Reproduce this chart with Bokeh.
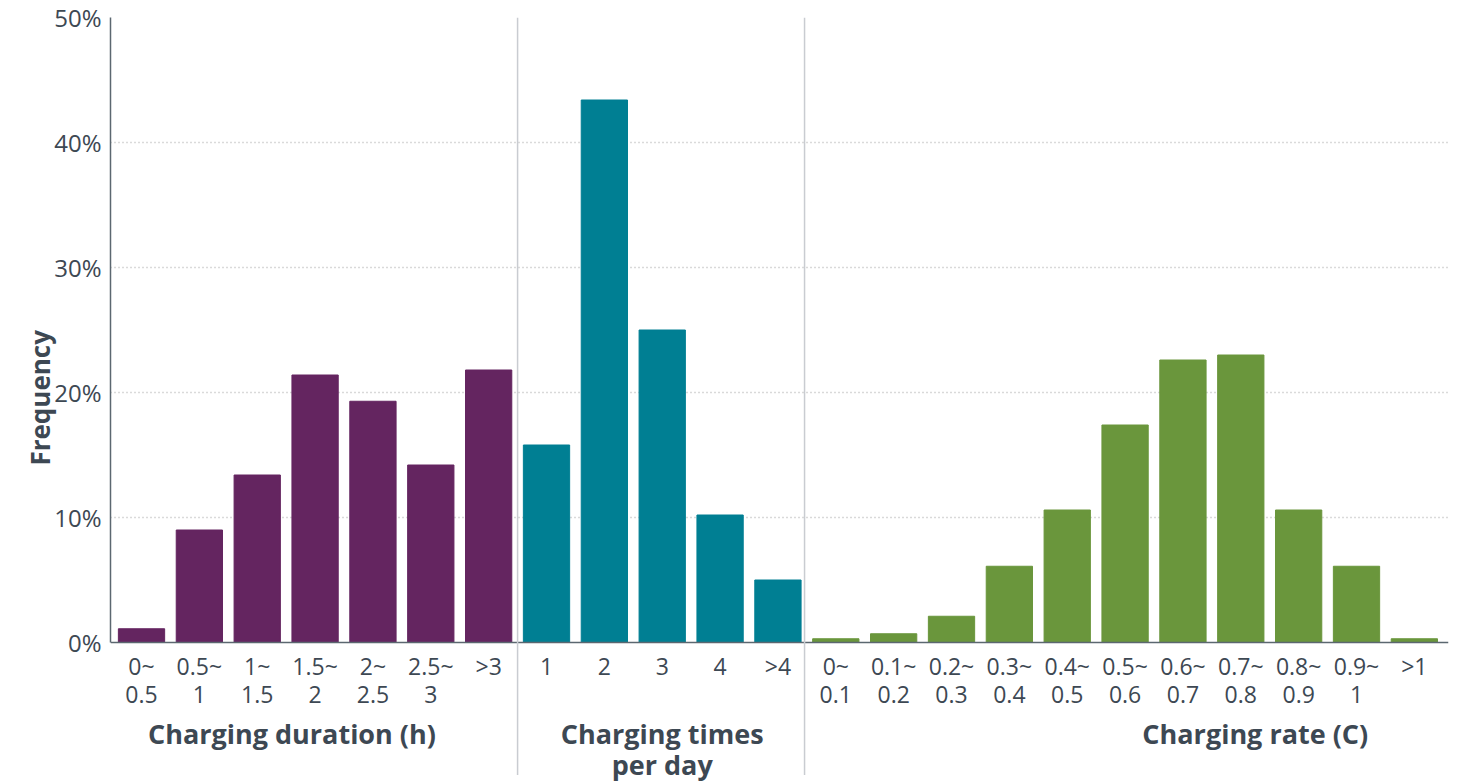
import math
from bokeh.plotting import figure
from bokeh.models import ColumnDataSource, FixedTicker, Range1d, LinearAxis
from bokeh.core.properties import value
from bokeh.embed import file_html
from bokeh.resources import INLINE

# ---- data ----
duration_labels = ["0~\n0.5", "0.5~\n1", "1~\n1.5", "1.5~\n2", "2~\n2.5", "2.5~\n3", ">3"]
duration_values = [1.1, 9.0, 13.4, 21.4, 19.3, 14.2, 21.8]

times_labels = ["1", "2", "3", "4", ">4"]
times_values = [15.8, 43.4, 25.0, 10.2, 5.0]

rate_labels = ["0~\n0.1", "0.1~\n0.2", "0.2~\n0.3", "0.3~\n0.4", "0.4~\n0.5", "0.5~\n0.6",
               "0.6~\n0.7", "0.7~\n0.8", "0.8~\n0.9", "0.9~\n1", ">1"]
rate_values = [0.3, 0.7, 2.1, 6.1, 10.6, 17.4, 22.6, 23.0, 10.6, 6.1, 0.3]

group_titles = ["Charging duration (h)", "Charging times\nper day", "Charging rate (C)"]
y_ticks = [0, 10, 20, 30, 40, 50]
y_title = "Frequency"

# ---- styling ----
C_PURPLE = "#642560"
C_TEAL = "#007f93"
C_GREEN = "#6a963c"
TXT = "#3d4853"
FONT = "Open Sans"

labels = duration_labels + times_labels + rate_labels
vals = duration_values + times_values + rate_values
colors = ([C_PURPLE] * len(duration_values) + [C_TEAL] * len(times_values)
          + [C_GREEN] * len(rate_values))
xs = list(range(len(vals)))
line1 = [l.split("\n")[0] for l in labels]
line2 = [l.split("\n")[1] if "\n" in l else "" for l in labels]

X0, X1 = -0.536, 22.59
Y0 = -11.28
p = figure(width=1458, height=783, output_backend="svg", toolbar_location=None,
           x_range=Range1d(X0, X1), y_range=Range1d(Y0, 50),
           min_border_left=110, min_border_right=10, min_border_top=17, min_border_bottom=0)
p.outline_line_color = None
p.xaxis.visible = False
p.xgrid.visible = False

p.yaxis.ticker = FixedTicker(ticks=y_ticks)
p.yaxis.bounds = (0, 50)
p.yaxis.major_label_overrides = {t: f"{t}%" for t in y_ticks}
p.yaxis.major_tick_line_color = None
p.yaxis.minor_tick_line_color = None
p.yaxis.major_tick_out = 0
p.yaxis.major_tick_in = 0
p.yaxis.minor_tick_out = 0
p.yaxis.axis_line_color = "#5b6770"
p.yaxis.axis_line_width = 1.5
p.yaxis.major_label_text_font = FONT
p.yaxis.major_label_text_font_size = "24px"
p.yaxis.major_label_text_color = TXT
p.yaxis.major_label_standoff = 9

# y title as a vertical label of an extra axis, centred on the 0-50% span
ttl_axis = LinearAxis(ticker=FixedTicker(ticks=[25]), major_label_overrides={25: y_title},
                      axis_line_color=None, major_tick_line_color=None,
                      minor_tick_line_color=None, major_tick_out=0, major_tick_in=0,
                      minor_tick_out=0, major_label_orientation=math.pi / 2,
                      major_label_text_font=FONT, major_label_text_font_size="26px",
                      major_label_text_font_style="bold", major_label_text_color=TXT,
                      major_label_standoff=12)
p.add_layout(ttl_axis, "left")

p.ygrid.ticker = FixedTicker(ticks=y_ticks[1:])
p.ygrid.grid_line_color = "#b4b4b4"
p.ygrid.grid_line_dash = "1 3"
p.ygrid.grid_line_width = 1.5

src = ColumnDataSource(dict(x=xs, top=vals, color=colors, l1=line1, l2=line2))
p.vbar(x="x", top="top", width=0.8, bottom=0, color="color", source=src)

# baseline
p.segment(x0=[X0], y0=[0], x1=[X1], y1=[0], line_color="#5b6770", line_width=1.5)

# separators between groups
n1 = len(duration_values)
n2 = n1 + len(times_values)
p.segment(x0=[n1 - 0.5, n2 - 0.54], y0=[50, 50], x1=[n1 - 0.5, n2 - 0.54], y1=[-10.6, -10.6],
          line_color="#c9ccd1", line_width=1.5)

# tick labels
p.text(x="x", y=-1.88, text="l1", source=src, text_font=value(FONT), text_font_size="23px",
       text_color=TXT, text_align="center", text_baseline="middle")
p.text(x="x", y=-4.16, text="l2", source=src, text_font=value(FONT), text_font_size="23px",
       text_color=TXT, text_align="center", text_baseline="middle")

# group titles
title_x = [2.6, (n1 + n2 - 1) / 2, 19.25]
title_y = [-7.28, -9.76]
tx, ty, tt = [], [], []
for t, cx in zip(group_titles, title_x):
    for ln, yy in zip(t.split("\n"), title_y):
        tx.append(cx)
        ty.append(yy)
        tt.append(ln)
p.text(x=tx, y=ty, text=tt, text_font=value(FONT), text_font_size="27px",
       text_font_style="bold", text_color=TXT, text_align="center", text_baseline="middle")

open("out.html", "w").write(file_html(p, INLINE))
